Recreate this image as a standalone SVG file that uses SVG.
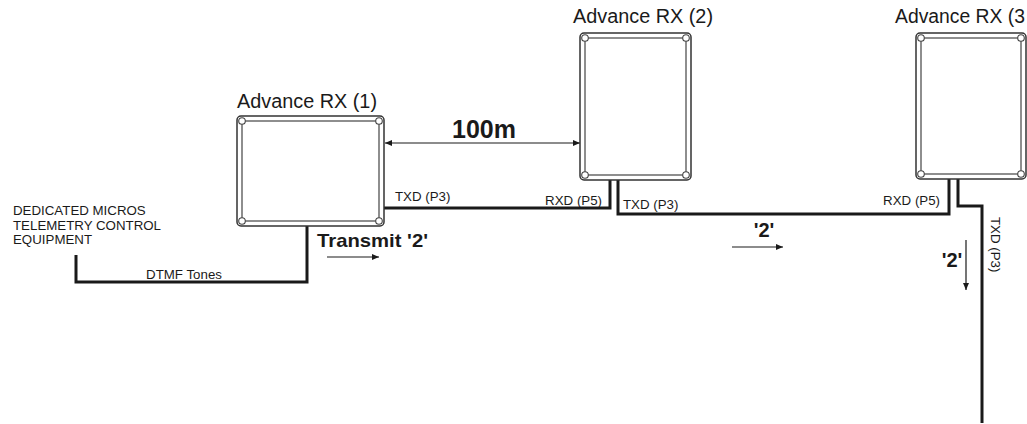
<svg xmlns="http://www.w3.org/2000/svg" width="1027" height="424" viewBox="0 0 1027 424">
<style>
text{font-family:"Liberation Sans",Arial,sans-serif;fill:#1a1a1a}
.title{font-size:19.5px}
.lbl{font-size:13.3px}
.bold{font-weight:bold}
.outer{fill:#fff;stroke:#333;stroke-width:1.5}
.inner{fill:none;stroke:#444;stroke-width:1.2}
.hole{fill:#fff;stroke:#444;stroke-width:1.1}
.wire{fill:none;stroke:#1a1a1a;stroke-width:3;stroke-linejoin:miter}
.arr{fill:none;stroke:#1a1a1a;stroke-width:1.2}
</style>
<defs>
<marker id="ah" viewBox="0 0 7 6" markerWidth="7" markerHeight="6" refX="7" refY="3" orient="auto-start-reverse" markerUnits="userSpaceOnUse">
<path d="M0,0 L7,3 L0,6 z" fill="#1a1a1a"/>
</marker>
</defs>

<g id="connectors">
<path class="wire" d="M76,255 V282 H307 V226"/>
<path class="wire" d="M384,208 H610 V180"/>
<path class="wire" d="M618,180 V214 H949 V179"/>
<path class="wire" d="M958,179 V206 H982 V423"/>
<line class="arr" x1="385" y1="143" x2="580" y2="143" marker-start="url(#ah)" marker-end="url(#ah)"/>
<line class="arr" x1="327" y1="257" x2="379" y2="257" marker-end="url(#ah)"/>
<line class="arr" x1="732" y1="247" x2="783" y2="247" marker-end="url(#ah)"/>
<line class="arr" x1="966" y1="240" x2="966" y2="290" marker-end="url(#ah)"/>
<text class="bold" x="484" y="138" font-size="25" text-anchor="middle">100m</text>
<text class="lbl" x="395" y="201">TXD (P3)</text>
<text class="lbl" x="602" y="205" text-anchor="end">RXD (P5)</text>
<text class="lbl" x="623" y="209">TXD (P3)</text>
<text class="lbl" x="940" y="205" text-anchor="end">RXD (P5)</text>
<text class="lbl" transform="translate(991,217) rotate(90)">TXD (P3)</text>
<text class="bold" x="317" y="247" font-size="19" textLength="111" lengthAdjust="spacingAndGlyphs">Transmit '2'</text>
<text class="bold" x="764" y="237" font-size="20" text-anchor="middle">'2'</text>
<text class="bold" x="952" y="267" font-size="20" text-anchor="middle">'2'</text>
<text class="lbl" x="184" y="279" text-anchor="middle">DTMF Tones</text>
</g>

<g id="equipment">
<text class="lbl" x="13" y="215">DEDICATED MICROS</text>
<text class="lbl" x="13" y="229.5">TELEMETRY CONTROL</text>
<text class="lbl" x="13" y="244">EQUIPMENT</text>
</g>

<g id="rx1">
<text class="title" x="237" y="108" textLength="140" lengthAdjust="spacingAndGlyphs">Advance RX (1)</text>
<rect class="outer" x="237" y="116" width="147" height="110" rx="4"/>
<rect class="inner" x="242" y="121" width="137" height="100"/>
<circle class="hole" cx="242" cy="121" r="3.3"/>
<circle class="hole" cx="379" cy="121" r="3.3"/>
<circle class="hole" cx="242" cy="221" r="3.3"/>
<circle class="hole" cx="379" cy="221" r="3.3"/>
</g>

<g id="rx2">
<text class="title" x="573" y="23" textLength="140" lengthAdjust="spacingAndGlyphs">Advance RX (2)</text>
<rect class="outer" x="580" y="33" width="111" height="147" rx="4"/>
<rect class="inner" x="585" y="38" width="101" height="137"/>
<circle class="hole" cx="585" cy="38" r="3.3"/>
<circle class="hole" cx="686" cy="38" r="3.3"/>
<circle class="hole" cx="585" cy="175" r="3.3"/>
<circle class="hole" cx="686" cy="175" r="3.3"/>
</g>

<g id="rx3">
<text class="title" x="895" y="23" textLength="130" lengthAdjust="spacingAndGlyphs">Advance RX (3</text>
<rect class="outer" x="916" y="33" width="110" height="146" rx="4"/>
<rect class="inner" x="921" y="38" width="100" height="136"/>
<circle class="hole" cx="921" cy="38" r="3.3"/>
<circle class="hole" cx="1021" cy="38" r="3.3"/>
<circle class="hole" cx="921" cy="174" r="3.3"/>
<circle class="hole" cx="1021" cy="174" r="3.3"/>
</g>
</svg>
